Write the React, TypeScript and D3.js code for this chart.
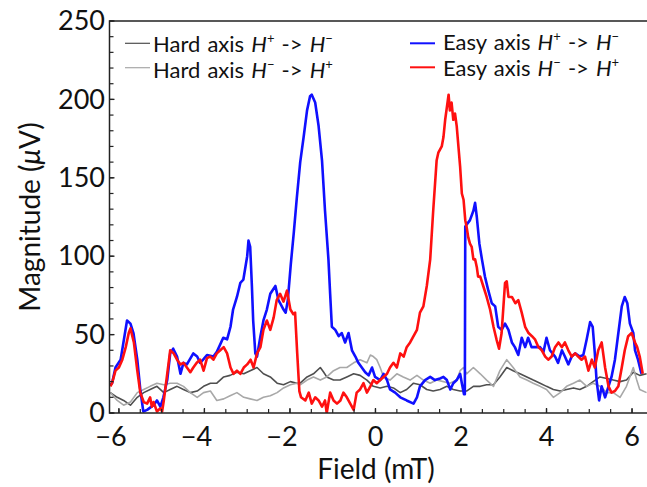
import React from "react";
import * as d3 from "d3";

// ---------- data (Field mT, Magnitude µV) ----------
const hardPlusToMinus: [number, number][] = [
  [-6.2, 13], [-6.04, 10], [-5.89, 8], [-5.73, 5], [-5.57, 10], [-5.42, 13], [-5.27, 15], [-5.11, 17],
  [-4.95, 13], [-4.8, 15], [-4.64, 17], [-4.49, 15], [-4.33, 13], [-4.17, 14], [-4.02, 17], [-3.86, 19],
  [-3.71, 19], [-3.55, 23], [-3.4, 24], [-3.24, 26], [-3.08, 25], [-2.93, 27], [-2.77, 29], [-2.62, 25],
  [-2.46, 23], [-2.3, 19], [-2.15, 18], [-1.99, 20], [-1.84, 19], [-1.76, 19], [-1.6, 23], [-1.45, 25],
  [-1.29, 29], [-1.21, 26], [-1.14, 23], [-0.98, 21], [-0.83, 21], [-0.67, 23], [-0.51, 25], [-0.36, 24],
  [-0.2, 21], [-0.05, 17], [0.11, 16], [0.27, 17], [0.42, 16], [0.58, 13], [0.73, 15], [0.89, 19],
  [1.04, 18], [1.2, 15], [1.35, 14], [1.51, 15], [1.67, 17], [1.82, 15], [1.98, 14], [2.13, 14],
  [2.29, 17], [2.45, 17], [2.6, 18], [2.76, 18], [2.91, 23], [3.07, 29], [3.22, 27], [3.38, 25],
  [3.54, 23], [3.69, 21], [3.85, 19], [4.0, 17], [4.16, 15], [4.32, 14], [4.47, 15], [4.63, 16],
  [4.78, 15], [4.94, 17], [5.09, 20], [5.25, 23], [5.41, 22], [5.56, 21], [5.72, 20], [5.87, 21],
  [6.03, 26], [6.18, 24], [6.34, 25],
];

const hardMinusToPlus: [number, number][] = [
  [-6.2, 13], [-6.04, 8], [-5.89, 5], [-5.73, 7], [-5.57, 13], [-5.42, 15], [-5.27, 17], [-5.11, 19],
  [-4.95, 18], [-4.8, 19], [-4.64, 19], [-4.49, 17], [-4.33, 13], [-4.17, 10], [-4.02, 13], [-3.86, 14],
  [-3.71, 8], [-3.55, 9], [-3.4, 11], [-3.24, 13], [-3.08, 10], [-2.93, 9], [-2.77, 8], [-2.62, 10],
  [-2.46, 11], [-2.3, 13], [-2.15, 16], [-1.99, 18], [-1.84, 19], [-1.76, 18], [-1.6, 21], [-1.45, 23],
  [-1.29, 21], [-1.14, 23], [-0.98, 27], [-0.83, 29], [-0.67, 29], [-0.51, 32], [-0.36, 34], [-0.2, 32],
  [-0.12, 37], [-0.05, 36], [0.03, 34], [0.11, 29], [0.19, 23], [0.34, 21], [0.5, 25], [0.65, 23],
  [0.81, 21], [0.97, 24], [1.12, 21], [1.28, 19], [1.43, 21], [1.59, 20], [1.74, 19], [1.9, 21],
  [1.98, 27], [2.06, 29], [2.13, 25], [2.29, 29], [2.45, 25], [2.6, 21], [2.76, 17], [2.91, 27],
  [3.07, 34], [3.22, 29], [3.38, 23], [3.54, 21], [3.69, 19], [3.85, 17], [4.0, 15], [4.16, 10],
  [4.32, 13], [4.47, 17], [4.63, 19], [4.78, 21], [4.94, 17], [5.09, 19], [5.25, 17], [5.41, 13],
  [5.56, 13], [5.72, 10], [5.87, 17], [6.03, 29], [6.11, 21], [6.18, 15], [6.34, 13],
];

const easyPlusToMinus: [number, number][] = [
  [-6.2, 18], [-6.16, 19], [-6.08, 29], [-5.96, 34], [-5.81, 59], [-5.73, 57], [-5.66, 51], [-5.57, 34],
  [-5.5, 15], [-5.43, 1], [-5.34, 2], [-5.19, 5], [-5.11, 8], [-5.03, 4], [-4.96, 10], [-4.87, 21],
  [-4.8, 38], [-4.73, 41], [-4.64, 36], [-4.56, 25], [-4.49, 32], [-4.41, 31], [-4.26, 38], [-4.17, 36],
  [-4.1, 32], [-4.03, 34], [-3.94, 37], [-3.79, 36], [-3.71, 39], [-3.56, 48], [-3.47, 47], [-3.39, 55],
  [-3.33, 66], [-3.24, 74], [-3.16, 83], [-3.09, 85], [-3.0, 100], [-2.97, 110], [-2.93, 106], [-2.89, 81],
  [-2.86, 59], [-2.81, 38], [-2.77, 36], [-2.69, 49], [-2.62, 59], [-2.54, 66], [-2.46, 76], [-2.34, 81],
  [-2.27, 72], [-2.23, 70], [-2.15, 66], [-2.1, 64], [-2.05, 72], [-1.98, 95], [-1.91, 115], [-1.84, 137],
  [-1.76, 160], [-1.68, 176], [-1.6, 193], [-1.53, 202], [-1.49, 203], [-1.41, 198], [-1.33, 183], [-1.25, 161],
  [-1.18, 129], [-1.1, 98], [-1.06, 76], [-1.02, 55], [-0.94, 53], [-0.86, 49], [-0.79, 51], [-0.71, 45],
  [-0.63, 51], [-0.55, 40], [-0.47, 36], [-0.4, 32], [-0.32, 29], [-0.24, 26], [-0.16, 24], [-0.08, 29],
  [-0.01, 23], [0.11, 21], [0.19, 25], [0.27, 21], [0.34, 15], [0.46, 13], [0.58, 10], [0.73, 8],
  [0.89, 6], [0.97, 10], [1.04, 17], [1.16, 21], [1.28, 23], [1.39, 21], [1.51, 22], [1.59, 23],
  [1.67, 21], [1.75, 15], [1.82, 19], [1.9, 21], [1.98, 25], [2.02, 19], [2.07, 12], [2.09, 12],
  [2.1, 119], [2.21, 123], [2.29, 129], [2.33, 134], [2.37, 125], [2.43, 108], [2.49, 98], [2.56, 87],
  [2.64, 78], [2.72, 70], [2.8, 68], [2.87, 55], [2.95, 53], [3.03, 57], [3.11, 53], [3.19, 45],
  [3.26, 42], [3.34, 37], [3.42, 48], [3.5, 42], [3.57, 48], [3.65, 42], [3.73, 42], [3.85, 42],
  [3.93, 39], [4.0, 48], [4.08, 40], [4.2, 36], [4.27, 32], [4.36, 40], [4.43, 36], [4.51, 31],
  [4.59, 36], [4.67, 38], [4.78, 36], [4.86, 37], [4.94, 47], [5.02, 58], [5.08, 55], [5.13, 38],
  [5.17, 21], [5.23, 8], [5.29, 17], [5.37, 10], [5.45, 17], [5.52, 23], [5.6, 34], [5.68, 51],
  [5.76, 68], [5.83, 74], [5.89, 70], [5.95, 57], [6.03, 51], [6.07, 40], [6.14, 34], [6.22, 25],
];

const easyMinusToPlus: [number, number][] = [
  [-6.2, 17], [-6.16, 19], [-6.08, 27], [-6.0, 29], [-5.92, 34], [-5.84, 42], [-5.77, 51], [-5.73, 54],
  [-5.65, 45], [-5.57, 27], [-5.5, 13], [-5.42, 7], [-5.34, 6], [-5.27, 10], [-5.23, 4], [-5.19, 7],
  [-5.11, 1], [-5.03, 3], [-4.99, 1], [-4.95, 8], [-4.87, 25], [-4.8, 40], [-4.72, 38], [-4.64, 34],
  [-4.56, 31], [-4.49, 32], [-4.41, 29], [-4.33, 26], [-4.26, 29], [-4.18, 32], [-4.1, 34], [-4.02, 27],
  [-3.94, 35], [-3.86, 36], [-3.79, 34], [-3.71, 38], [-3.63, 40], [-3.55, 42], [-3.47, 38], [-3.39, 29],
  [-3.32, 25], [-3.24, 27], [-3.16, 25], [-3.08, 29], [-3.0, 31], [-2.92, 34], [-2.85, 29], [-2.77, 38],
  [-2.69, 42], [-2.62, 53], [-2.54, 59], [-2.46, 53], [-2.38, 61], [-2.31, 72], [-2.23, 76], [-2.15, 71],
  [-2.07, 78], [-2.03, 72], [-1.99, 66], [-1.92, 63], [-1.88, 64], [-1.83, 38], [-1.78, 14], [-1.74, 10],
  [-1.64, 8], [-1.56, 13], [-1.49, 6], [-1.41, 10], [-1.33, 8], [-1.25, 4], [-1.18, 8], [-1.14, 0],
  [-1.06, 13], [-0.98, 8], [-0.9, 6], [-0.82, 8], [-0.75, 13], [-0.67, 10], [-0.59, 6], [-0.51, 2],
  [-0.44, 13], [-0.36, 15], [-0.28, 19], [-0.2, 13], [-0.12, 17], [-0.05, 21], [0.03, 19], [0.11, 21],
  [0.19, 23], [0.27, 25], [0.34, 29], [0.42, 32], [0.5, 29], [0.58, 38], [0.66, 36], [0.73, 42],
  [0.81, 45], [0.89, 49], [0.97, 53], [1.04, 64], [1.12, 68], [1.2, 81], [1.28, 98], [1.35, 129],
  [1.43, 161], [1.47, 166], [1.55, 170], [1.59, 176], [1.63, 187], [1.71, 203], [1.74, 193], [1.78, 198],
  [1.82, 187], [1.86, 191], [1.9, 183], [1.98, 157], [2.02, 140], [2.06, 136], [2.1, 123], [2.13, 119],
  [2.17, 112], [2.21, 108], [2.25, 106], [2.29, 98], [2.33, 98], [2.37, 93], [2.4, 87], [2.45, 87],
  [2.52, 81], [2.6, 74], [2.68, 66], [2.76, 55], [2.83, 47], [2.89, 41], [2.95, 51], [3.03, 83],
  [3.07, 84], [3.11, 74], [3.19, 74], [3.27, 70], [3.34, 72], [3.42, 64], [3.5, 55], [3.58, 51],
  [3.66, 49], [3.73, 47], [3.81, 42], [3.89, 40], [3.97, 36], [4.04, 34], [4.12, 36], [4.2, 42],
  [4.28, 45], [4.36, 42], [4.43, 45], [4.51, 40], [4.59, 36], [4.67, 38], [4.74, 36], [4.82, 34],
  [4.9, 36], [4.98, 27], [5.06, 34], [5.13, 29], [5.21, 40], [5.29, 45], [5.37, 29], [5.45, 17],
  [5.52, 13], [5.6, 14], [5.68, 17], [5.76, 29], [5.83, 40], [5.91, 49], [5.99, 51], [6.07, 45],
  [6.12, 42], [6.18, 36], [6.25, 25],
];

const xMajorTicks = [-6, -4, -2, 0, 2, 4, 6];
const yMajorTicks = [0, 50, 100, 150, 200, 250];

// ---------- layout ----------
const W = 647;
const H = 487;
const left = 109.5;
const right = 647;
const top = 21;
const bottom = 413;

const FONT = "Lato, 'Open Sans', sans-serif";

const xScale = d3.scaleLinear().domain([-6.22, 6.35]).range([left, right]);
const yScale = d3.scaleLinear().domain([0, 250]).range([bottom, top]);

const lineGen = d3
  .line<[number, number]>()
  .x((d) => xScale(d[0]))
  .y((d) => yScale(d[1]));

const xMinorTicks = d3.range(-6, 6.01, 0.5);
const yMinorTicks = d3.range(0, 251, 10);

const series = [
  { data: hardPlusToMinus, color: "#4f4f4f", width: 1.6 },
  { data: hardMinusToPlus, color: "#a8a8a8", width: 1.6 },
  { data: easyPlusToMinus, color: "#1010ff", width: 2.6 },
  { data: easyMinusToPlus, color: "#ff1010", width: 2.6 },
];

function Label({ x, y, prefix, a, b }: { x: number; y: number; prefix: string; a: string; b: string }) {
  return (
    <text x={x} y={y} fontFamily={FONT} fontSize={22} fill="#111" wordSpacing={1.5}>
      {prefix}
      <tspan fontStyle="italic">H</tspan>
      <tspan fontSize={13} dy={-9}>{a}</tspan>
      <tspan dy={9}>{" -> "}</tspan>
      <tspan fontStyle="italic">H</tspan>
      <tspan fontSize={13} dy={-9}>{b}</tspan>
    </text>
  );
}

export default function App() {
  return (
    <svg
      width={W}
      height={H}
      style={{ position: "absolute", left: 0, top: 0, background: "#fff" }}
    >
      <defs>
        <clipPath id="plotClip">
          <rect x={left} y={top} width={right - left + 20} height={bottom - top} />
        </clipPath>
      </defs>

      <g clipPath="url(#plotClip)">
        {series.map((s, i) => (
          <path
            key={i}
            d={lineGen(s.data) || ""}
            fill="none"
            stroke={s.color}
            strokeWidth={s.width}
            strokeLinejoin="round"
          />
        ))}
      </g>

      {/* frame */}
      <rect x={left} y={top} width={right - left + 20} height={bottom - top} fill="none" stroke="#222" strokeWidth={1.5} />

      {/* x ticks */}
      {xMinorTicks.map((t) => (
        <line key={"xm" + t} x1={xScale(t)} x2={xScale(t)} y1={bottom} y2={bottom - 4} stroke="#222" strokeWidth={1.2} />
      ))}
      {xMajorTicks.map((t) => (
        <line key={"xM" + t} x1={xScale(t)} x2={xScale(t)} y1={bottom} y2={bottom - 5} stroke="#222" strokeWidth={1.3} />
      ))}
      {xMajorTicks.map((t) => (
        <g key={"xl" + t}>
          <text x={xScale(t)} y={446} textAnchor="middle" fontFamily={FONT} fontSize={27} fill="#111">
            {Math.abs(t)}
          </text>
          {t < 0 && (
            <text x={xScale(t) - 8} y={446} textAnchor="end" fontFamily={FONT} fontSize={27} fill="#111">
              −
            </text>
          )}
        </g>
      ))}

      {/* y ticks */}
      {yMinorTicks.map((t) => (
        <line key={"ym" + t} x1={left} x2={left + 4} y1={yScale(t)} y2={yScale(t)} stroke="#222" strokeWidth={1.2} />
      ))}
      {yMajorTicks.map((t) => (
        <line key={"yM" + t} x1={left} x2={left + 5} y1={yScale(t)} y2={yScale(t)} stroke="#222" strokeWidth={1.3} />
      ))}
      {yMajorTicks.map((t) => (
        <text key={"yl" + t} x={105} y={yScale(t)} dy="0.34em" textAnchor="end" fontFamily={FONT} fontSize={27} fill="#111">
          {t}
        </text>
      ))}

      {/* axis titles */}
      <text x={376} y={479} textAnchor="middle" fontFamily={FONT} fontSize={28} fill="#111">
        Field (mT)
      </text>
      <text
        transform={`translate(40, ${(top + bottom) / 2}) rotate(-90)`}
        textAnchor="middle"
        fontFamily={FONT}
        fontSize={28}
        fill="#111"
      >
        Magnitude (<tspan fontStyle="italic">μ</tspan>V)
      </text>

      {/* legend: hard axis */}
      <line x1={125} x2={150} y1={43.3} y2={43.3} stroke="#4f4f4f" strokeWidth={1.2} />
      <Label x={153} y={52} prefix="Hard axis " a="+" b="−" />
      <line x1={125} x2={150} y1={67.7} y2={67.7} stroke="#a8a8a8" strokeWidth={1.2} />
      <Label x={153} y={78} prefix="Hard axis " a="−" b="+" />

      {/* legend: easy axis */}
      <line x1={410} x2={435} y1={43.3} y2={43.3} stroke="#1010ff" strokeWidth={2} />
      <Label x={443} y={50} prefix="Easy axis " a="+" b="−" />
      <line x1={410} x2={435} y1={67.3} y2={67.3} stroke="#ff1010" strokeWidth={2} />
      <Label x={443} y={76} prefix="Easy axis " a="−" b="+" />
    </svg>
  );
}
